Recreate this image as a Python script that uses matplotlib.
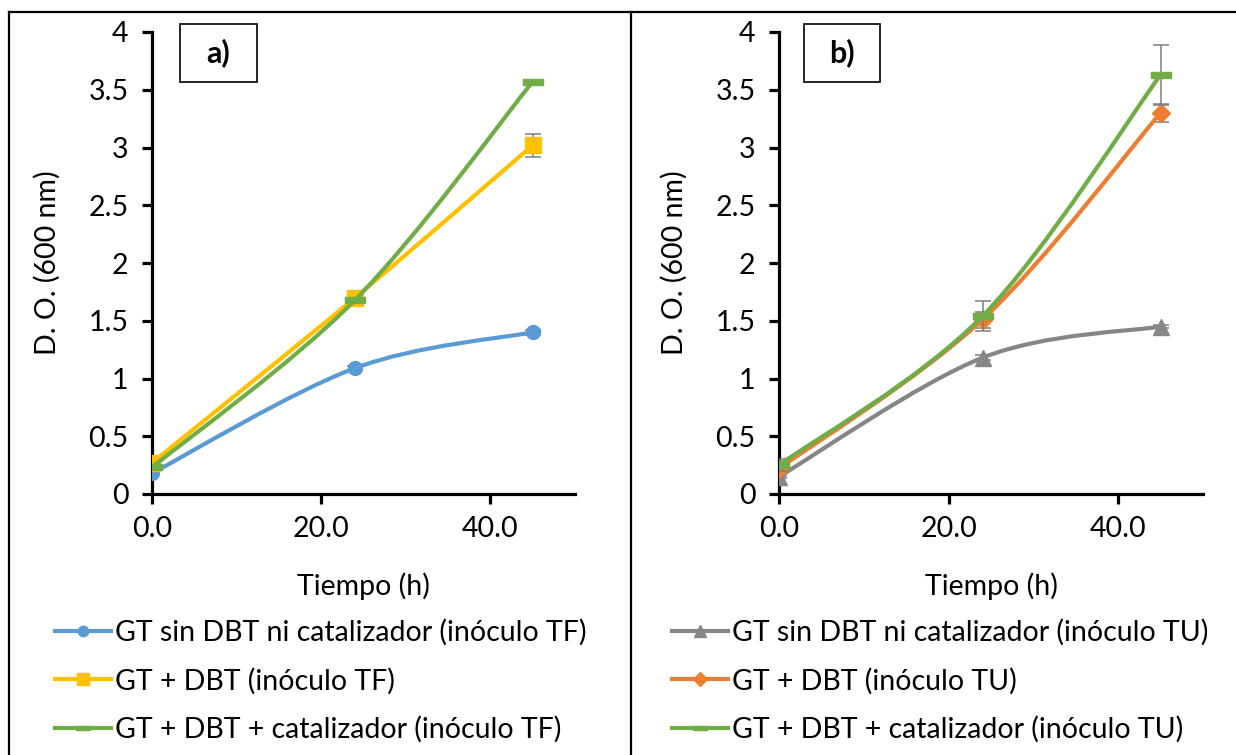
import matplotlib
matplotlib.use("Agg")
import matplotlib.pyplot as plt
from matplotlib.path import Path
from matplotlib.patches import PathPatch, Rectangle
from matplotlib.lines import Line2D

plt.rcParams['font.family'] = ['Lato', 'DejaVu Sans']

# datos
tiempo = [0, 24, 45]

# panel a) inoculo TF
a_sin = [0.18, 1.09, 1.40]
a_sin_err = [0.01, 0.02, 0.02]
a_dbt = [0.27, 1.70, 3.02]
a_dbt_err = [0.02, 0.03, 0.10]
a_cat = [0.23, 1.68, 3.57]
a_cat_err = [0.01, 0.02, 0.01]

# panel b) inoculo TU
b_sin = [0.15, 1.18, 1.45]
b_sin_err = [0.01, 0.02, 0.01]
b_dbt = [0.22, 1.51, 3.30]
b_dbt_err = [0.03, 0.07, 0.08]
b_cat = [0.25, 1.54, 3.63]
b_cat_err = [0.05, 0.13, 0.26]

labels_a = ["GT sin DBT ni catalizador (inóculo TF)",
            "GT + DBT (inóculo TF)",
            "GT + DBT + catalizador (inóculo TF)"]
labels_b = ["GT sin DBT ni catalizador (inóculo TU)",
            "GT + DBT (inóculo TU)",
            "GT + DBT + catalizador (inóculo TU)"]

xticks = [0, 20, 40]
xticklabels = ["0.0", "20.0", "40.0"]
yticks = [0, 0.5, 1, 1.5, 2, 2.5, 3, 3.5, 4]
yticklabels = ["0", "0.5", "1", "1.5", "2", "2.5", "3", "3.5", "4"]

AZUL = "#5B9BD5"
AMARILLO = "#FFC000"
VERDE = "#70AD47"
GRIS = "#868686"
NARANJA = "#ED7D31"

# marcador tipo "guion" de Excel
guion = [(-1, -0.32), (1, -0.32), (1, 0.32), (-1, 0.32), (-1, -0.32)]

W, H = 1236, 755
FS = 20.5


def curva_suave(x, y):
    # spline tipo Excel (Catmull-Rom como Bezier)
    pts = list(zip(x, y))
    verts = [pts[0]]
    codes = [Path.MOVETO]
    n = len(pts)
    for i in range(n - 1):
        p0 = pts[i - 1] if i > 0 else pts[i]
        p1 = pts[i]
        p2 = pts[i + 1]
        p3 = pts[i + 2] if i + 2 < n else pts[i + 1]
        c1 = (p1[0] + (p2[0] - p0[0]) / 6, p1[1] + (p2[1] - p0[1]) / 6)
        c2 = (p2[0] - (p3[0] - p1[0]) / 6, p2[1] - (p3[1] - p1[1]) / 6)
        verts += [c1, c2, p2]
        codes += [Path.CURVE4] * 3
    return Path(verts, codes)


def serie(ax, y, err, color, marker, ms, z):
    ax.errorbar(tiempo, y, yerr=err, fmt='none', ecolor='#7F7F7F',
                elinewidth=1.1, capsize=6, capthick=1.1, zorder=z)
    ax.add_patch(PathPatch(curva_suave(tiempo, y), fill=False, edgecolor=color,
                           lw=3.0, capstyle='round', zorder=z + 0.1))
    ax.plot(tiempo, y, ls='none', marker=marker, ms=ms, color=color,
            mec=color, zorder=z + 0.2)
    return Line2D([], [], color=color, lw=3.0, marker=marker, ms=ms * 0.75, mec=color)


def ejes(ax):
    ax.set_xlim(0, 50)
    ax.set_ylim(0, 4)
    ax.set_xticks(xticks)
    ax.set_xticklabels(xticklabels)
    ax.set_yticks(yticks)
    ax.set_yticklabels(yticklabels)
    for s in ['top', 'right']:
        ax.spines[s].set_visible(False)
    for s in ['left', 'bottom']:
        ax.spines[s].set_linewidth(2.3)
        ax.spines[s].set_color('black')
    ax.tick_params(axis='both', direction='out', length=7, width=2.3,
                   labelsize=FS, colors='black')
    ax.tick_params(axis='y', pad=10)
    ax.tick_params(axis='x', pad=9)
    ax.set_xlabel("Tiempo (h)", fontsize=FS, labelpad=22)
    ax.set_ylabel("D. O. (600 nm)", fontsize=FS, labelpad=20)


fig = plt.figure(figsize=(W / 100, H / 100), dpi=100)
axA = fig.add_axes([152 / W, 1 - 494 / H, 423 / W, 462 / H])
axB = fig.add_axes([779 / W, 1 - 494 / H, 424 / W, 462 / H])

hA = [serie(axA, a_sin, a_sin_err, AZUL, 'o', 10, 3),
      serie(axA, a_dbt, a_dbt_err, AMARILLO, 's', 12, 4),
      serie(axA, a_cat, a_cat_err, VERDE, guion, 14, 5)]
hB = [serie(axB, b_sin, b_sin_err, GRIS, '^', 12, 3),
      serie(axB, b_dbt, b_dbt_err, NARANJA, 'D', 9, 4),
      serie(axB, b_cat, b_cat_err, VERDE, guion, 14, 5)]

ejes(axA)
ejes(axB)

axA.legend(hA, labels_a, loc='upper left', bbox_to_anchor=(55 / W, 1 - 619 / H),
           bbox_transform=fig.transFigure, frameon=False, fontsize=FS,
           handlelength=1.95, handletextpad=0.15, labelspacing=0.76, borderaxespad=0,
           borderpad=0)
axB.legend(hB, labels_b, loc='upper left', bbox_to_anchor=(672 / W, 1 - 619 / H),
           bbox_transform=fig.transFigure, frameon=False, fontsize=FS,
           handlelength=1.95, handletextpad=0.15, labelspacing=0.76, borderaxespad=0,
           borderpad=0)

# cajas a) y b)
for x0, x1, txt in [(180, 257, "a)"), (804, 880, "b)")]:
    fig.add_artist(Rectangle((x0 / W, 1 - 82 / H), (x1 - x0) / W, 58 / H,
                             transform=fig.transFigure, fill=False,
                             edgecolor='black', lw=1.2))
    fig.text((x0 + x1) / 2 / W, 1 - 53 / H, txt, ha='center', va='center',
             fontsize=22, fontweight='bold')

# marco de la tabla
for xs, ys in [([9, 9], [12, 755]), ([631, 631], [12, 755]), ([9, 1236], [12, 12])]:
    fig.add_artist(Line2D([v / W for v in xs], [1 - v / H for v in ys],
                          transform=fig.transFigure, color='black', lw=1.6))

fig.savefig("out.png", dpi=100)
